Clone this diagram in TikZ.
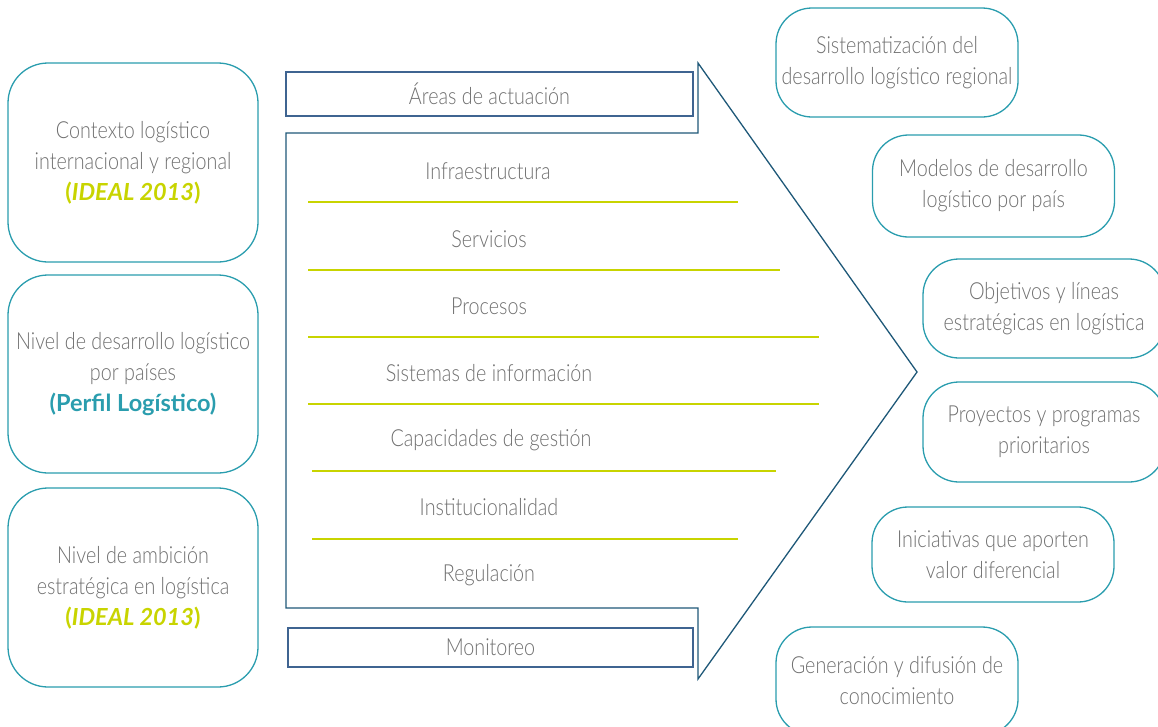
\documentclass[tikz,border=0pt]{standalone}
\usepackage{fontspec}
\setmainfont{Lato}[UprightFont=* Light, BoldFont=* Bold, ItalicFont=* Light Italic, BoldItalicFont=* Bold Italic, FakeStretch=0.84]
\newfontfamily\boldf{Lato}[UprightFont=* Bold, ItalicFont=* Bold Italic]
\definecolor{teal1}{HTML}{2A9DAE}
\definecolor{arrowc}{HTML}{1E5878}
\definecolor{areac}{HTML}{3F6491}
\definecolor{lime}{HTML}{C8D400}
\definecolor{txt}{HTML}{6F6F6F}
\begin{document}
\begin{tikzpicture}[x=1pt,y=-1pt,
  every node/.style={font=\fontsize{23.5}{31}\selectfont, text=txt, align=center, inner sep=0pt},
  leftbox/.style={draw=teal1, line width=1.3pt, rounded corners=40pt, minimum width=250pt},
  rightbox/.style={draw=teal1, line width=1.3pt, rounded corners=36pt, minimum width=242pt},
  barbox/.style={draw=areac, line width=1.3pt, minimum width=407pt},
  sep/.style={draw=lime, line width=1.4pt}]
\useasboundingbox (0,0) rectangle (1158,726);
% left boxes
\node[leftbox, minimum height=199pt] (ctx) at (133,162.5) {Contexto logístico\\internacional y regional\\{\boldf\color{lime}(\textit{IDEAL 2013})}};
\node[leftbox, minimum height=198pt] (niv) at (133,374) {Nivel de desarrollo logístico\\por países\\{\boldf\color{teal1}(Perfil Logístico)}};
\node[leftbox, minimum height=199pt] (amb) at (133,587.5) {Nivel de ambición\\estratégica en logística\\{\boldf\color{lime}(\textit{IDEAL 2013})}};
% arrow
\draw[arrowc, line width=1.3pt, line join=miter]
  (286,133) -- (698,133) -- (698,63) -- (917,372) -- (698,679) -- (698,608) -- (286,608) -- cycle;
% bars
\node[barbox, minimum height=44pt] (areas) at (489.5,94) {Áreas de actuación};
\node[barbox, minimum height=39pt, minimum width=405pt] (mon) at (490.5,647.5) {Monitoreo};
% items
\node (i1) at (488,171) {Infraestructura};
\node (i2) at (489,239) {Servicios};
\node (i3) at (489,306) {Procesos};
\node (i4) at (489,373) {Sistemas de información};
\node (i5) at (491,440) {Capacidades de gestión};
\node (i6) at (489,507) {Institucionalidad};
\node (i7) at (489,575) {Regulación};
\draw[sep] (308,202) -- (738,202);
\draw[sep] (308,270) -- (780,270);
\draw[sep] (308,337) -- (819,337);
\draw[sep] (308,404) -- (819,404);
\draw[sep] (312,471) -- (776,471);
\draw[sep] (312,539) -- (738,539);
% right boxes
\node[rightbox, minimum height=109pt] (r1) at (897,62.5) {Sistematización del\\desarrollo logístico regional};
\node[rightbox, minimum height=102pt] (r2) at (993.5,186) {Modelos de desarrollo\\logístico por país};
\node[rightbox, minimum height=99pt] (r3) at (1044,308.5) {Objetivos y líneas\\estratégicas en logística};
\node[rightbox, minimum height=100pt] (r4) at (1044,432) {Proyectos y programas\\prioritarios};
\node[rightbox, minimum height=95pt] (r5) at (993,554.5) {Iniciativas que aporten\\valor diferencial};
\node[rightbox, minimum height=108pt] (r6) at (897,681) {Generación y difusión de\\conocimiento};
\end{tikzpicture}
\end{document}
